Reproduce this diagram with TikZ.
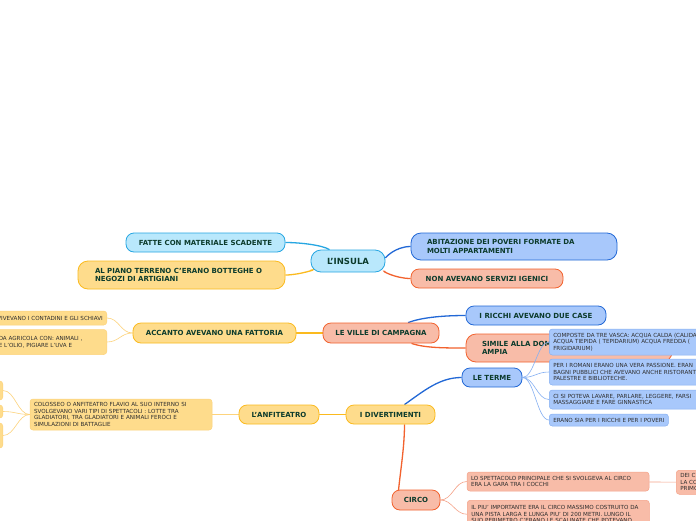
\documentclass[tikz,border=0pt]{standalone}
\usepackage{fontspec}
\setmainfont{DejaVu Sans}
\pgfdeclarelayer{background}
\pgfsetlayers{background,main}

\definecolor{labelgreen}{HTML}{0C3B2C}
\definecolor{notegray}{HTML}{2E2E2E}
\definecolor{cyanfill}{HTML}{B9E8FC}
\definecolor{cyanline}{HTML}{26A6E2}
\definecolor{yelfill}{HTML}{FEDC8C}
\definecolor{yelline}{HTML}{FBBA1E}
\definecolor{yeltwig}{HTML}{FDD37C}
\definecolor{bluefill}{HTML}{A8C8FB}
\definecolor{blueline}{HTML}{2268D6}
\definecolor{bluetwig}{HTML}{86B0F2}
\definecolor{salfill}{HTML}{F8BCA8}
\definecolor{salline}{HTML}{F2622E}
\definecolor{saltwig}{HTML}{F5A389}

\begin{document}
\begin{tikzpicture}[x=1pt,y=-1pt,
  box/.style={draw,rounded corners=8pt,line width=0.8pt,text=labelgreen,
    font=\bfseries\fontsize{7}{8.6}\selectfont,minimum height=19pt,
    inner xsep=8pt,inner ysep=0pt},
  note/.style={draw,rounded corners=3pt,line width=0.5pt,text=notegray,
    font=\fontsize{5.6}{6.5}\selectfont,align=left,inner xsep=4pt,inner ysep=2pt},
  cyanbox/.style={box,fill=cyanfill,draw=cyanline},
  yelbox/.style={box,fill=yelfill,draw=yelline},
  bluebox/.style={box,fill=bluefill,draw=blueline},
  salbox/.style={box,fill=salfill,draw=salline},
  yelnote/.style={note,fill=yelfill,draw=yeltwig},
  bluenote/.style={note,fill=bluefill,draw=bluetwig},
  salnote/.style={note,fill=salfill,draw=saltwig},
  link/.style={line width=1.3pt},
  twig/.style={line width=0.6pt}]

  \useasboundingbox (0,0) rectangle (696,520);
  \clip (0,0) rectangle (696,520);

  % l'insula
  \node[cyanbox,minimum width=74pt,minimum height=22pt,rounded corners=10pt,
    font=\bfseries\fontsize{8.5}{10}\selectfont] (insula) at (348,261) {L'INSULA};
  \node[cyanbox,minimum width=159pt] (fatte) at (205.5,242.5) {FATTE CON MATERIALE SCADENTE};
  \node[yelbox,text width=173pt,inner xsep=17pt,minimum height=28pt,align=left,
    rounded corners=10pt] (piano) at (181.5,275)
    {AL PIANO TERRENO C'ERANO BOTTEGHE O\\NEGOZI DI ARTIGIANI};
  \node[bluebox,text width=174pt,inner xsep=16pt,minimum height=27pt,align=left,
    rounded corners=10pt] (abit) at (514,246.5)
    {ABITAZIONE DEI POVERI FORMATE DA\\MOLTI APPARTAMENTI};
  \node[salbox,minimum width=152pt] (igien) at (487,278.5) {NON AVEVANO SERVIZI IGENICI};

  % le ville
  \node[salbox,minimum width=116pt,minimum height=20pt] (ville) at (381,333) {LE VILLE DI CAMPAGNA};
  \node[yelbox,minimum width=163pt,minimum height=20pt] (fattoria) at (214.5,333) {ACCANTO AVEVANO UNA FATTORIA};
  \node[yelnote,anchor=east,minimum height=14pt] (contad) at (107,318)
    {VIVEVANO I CONTADINI E GLI SCHIAVI};
  \node[yelnote,anchor=east,text width=104pt,minimum height=25pt] (agric) at (107,342)
    {DA AGRICOLA CON: ANIMALI ,\\E L'OLIO, PIGIARE L'UVA E};
  \node[bluebox,minimum width=140pt] (ricchi) at (536,315.5) {I RICCHI AVEVANO DUE CASE};
  \node[salbox,text width=174pt,inner xsep=16pt,minimum height=28pt,align=left,
    rounded corners=10pt] (simile) at (569,348)
    {SIMILE ALLA DOMUS MA PIU'\\AMPIA};

  % i divertimenti
  \node[yelbox,minimum width=89pt] (divert) at (390.5,414.5) {I DIVERTIMENTI};
  \node[bluebox,minimum width=60pt] (terme) at (492,377.5) {LE TERME};
  \node[bluenote,anchor=west,text width=170pt,minimum height=26pt] (vasche) at (549,342)
    {COMPOSTE DA TRE VASCA: ACQUA CALDA (CALIDA\\ACQUA TIEPIDA ( TEPIDARIUM) ACQUA FREDDA (\\FRIGIDARIUM)};
  \node[bluenote,anchor=west,text width=170pt,minimum height=26pt] (passione) at (549,372)
    {PER I ROMANI ERANO UNA VERA PASSIONE. ERAN\\BAGNI PUBBLICI CHE AVEVANO ANCHE RISTORANT\\PALESTRE E BIBLIOTECHE.};
  \node[bluenote,anchor=west,text width=170pt,minimum height=19pt] (lavare) at (549,399.5)
    {CI SI POTEVA LAVARE, PARLARE, LEGGERE, FARSI\\MASSAGGIARE E FARE GINNASTICA};
  \node[bluenote,anchor=west,minimum height=12pt] (poveri) at (549,420)
    {ERANO SIA PER I RICCHI E PER I POVERI};
  \node[yelbox,minimum width=80pt] (anfit) at (279,414.5) {L'ANFITEATRO};
  \node[yelnote,text width=174pt,minimum height=31pt] (colosseo) at (121,414.5)
    {COLOSSEO O ANFITEATRO FLAVIO AL SUO INTERNO SI\\SVOLGEVANO VARI TIPI DI SPETTACOLI : LOTTE TRA\\GLADIATORI, TRA GLADIATORI E ANIMALI FEROCI E\\SIMULAZIONI DI BATTAGLIE};
  \node[yelnote,anchor=east,minimum width=30pt,minimum height=19pt] (gladA) at (3,390.5) {};
  \node[yelnote,anchor=east,minimum width=30pt,minimum height=13pt] (gladB) at (3,411.5) {};
  \node[yelnote,anchor=east,minimum width=30pt,minimum height=25pt] (gladC) at (3,435.5) {};
  \node[salbox,minimum width=48pt,minimum height=20pt] (circo) at (416,500) {CIRCO};
  \node[salnote,text width=174pt,minimum height=19pt] (cocchi) at (558,481.5)
    {LO SPETTACOLO PRINCIPALE CHE SI SVOLGEVA AL CIRCO\\ERA LA GARA TRA I COCCHI};
  \node[salnote,anchor=north west,text width=40pt,minimum height=24pt] (deic) at (676,470)
    {DEI C\\LA CO\\PRIMO};
  \node[salnote,anchor=north west,text width=174pt,minimum height=28pt] (massimo) at (467,500)
    {IL PIU' IMPORTANTE ERA IL CIRCO MASSIMO COSTRUITO DA\\UNA PISTA LARGA E LUNGA PIU' DI 200 METRI. LUNGO IL\\SUO PERIMETRO C'ERANO LE SCALINATE CHE POTEVANO};

  \begin{pgfonlayer}{background}
    \fill[white] (0,0) rectangle (696,520);
    \draw[link,cyanline] (insula) .. controls (322,245) and (300,242.5) .. (fatte.east);
    \draw[link,yelline] (insula) .. controls (320,268) and (300,275) .. (piano.east);
    \draw[link,blueline] (insula) .. controls (385,258) and (395,246.5) .. (abit.west);
    \draw[link,salline] (insula) .. controls (380,270) and (395,278.5) .. (igien.west);
    \draw[link,yelline] (ville) -- (fattoria);
    \draw[link,blueline] (ville) .. controls (420,318) and (440,315.5) .. (ricchi.west);
    \draw[link,salline] (ville) .. controls (425,348) and (445,348) .. (simile.west);
    \draw[twig,yeltwig] (fattoria.west) .. controls +(-12,0) and +(12,0) .. (contad.east);
    \draw[twig,yeltwig] (fattoria.west) .. controls +(-12,0) and +(12,0) .. (agric.east);
    \draw[link,blueline] (divert) .. controls (425,390) and (440,377.5) .. (terme.west);
    \draw[link,yelline] (divert) -- (anfit);
    \draw[link,salline] ([xshift=14pt]divert.south) .. controls +(0,25) and +(2,-25) .. ([xshift=6pt]circo.west);
    \draw[twig,yeltwig] (anfit) -- (colosseo);
    \foreach \g in {gladA,gladB,gladC}
      \draw[twig,yeltwig] (colosseo.west) .. controls +(-12,0) and +(12,0) .. (\g.east);
    \draw[twig,saltwig] (circo.east) .. controls +(12,0) and +(-12,0) .. (cocchi.west);
    \draw[twig,saltwig] (circo.east) .. controls +(12,0) and +(-12,0) .. (massimo.west);
    \draw[twig,saltwig] (cocchi) -- (deic);
  \end{pgfonlayer}

  % the terme twigs cross the simile box
  \foreach \t in {vasche,passione,lavare,poveri}
    \draw[twig,bluetwig] (terme.east) .. controls +(12,0) and +(-12,0) .. (\t.west);
\end{tikzpicture}
\end{document}
